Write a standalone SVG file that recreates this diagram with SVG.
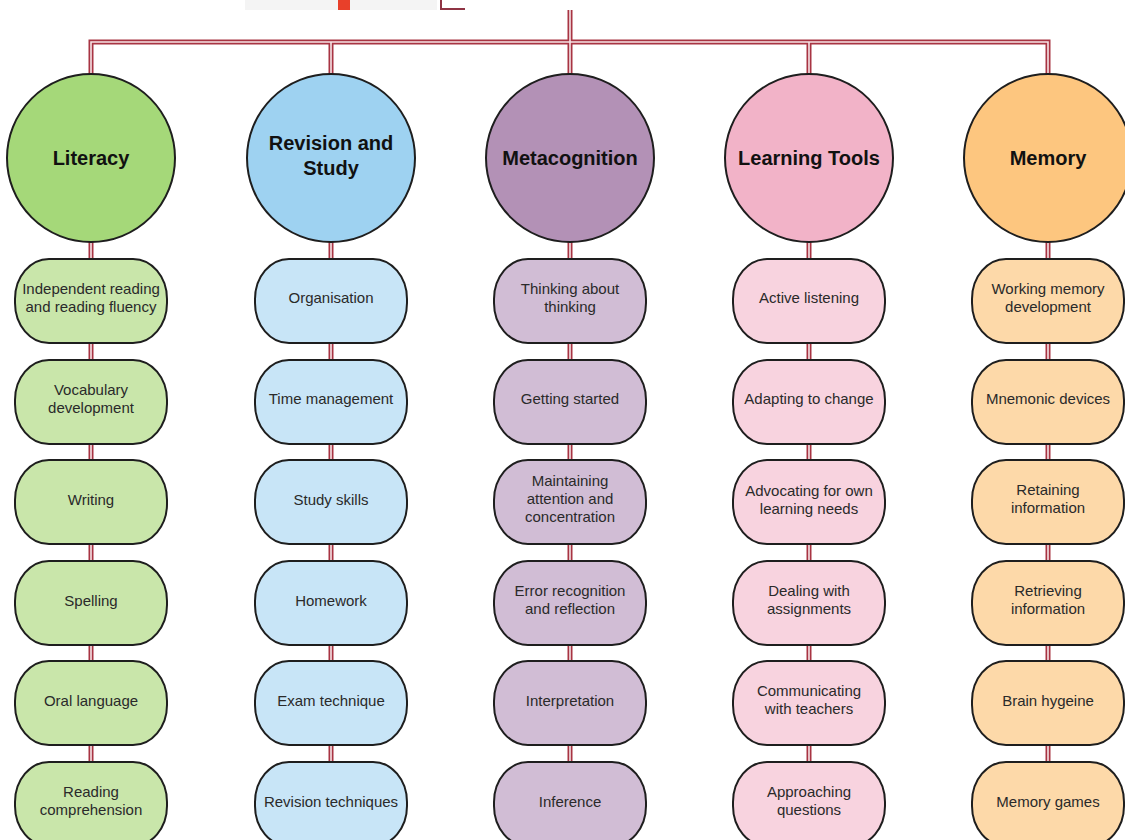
<svg xmlns="http://www.w3.org/2000/svg" xmlns:xlink="http://www.w3.org/1999/xlink" width="1125" height="840" viewBox="0 0 1125 840">
<style>
.pipe{fill:none;stroke:#a83443;stroke-width:5}
.pipein{fill:none;stroke:#f6e4e6;stroke-width:1.6}
.circ{stroke:#1e1e1e;stroke-width:2}
.box{stroke:#1e1e1e;stroke-width:2}
.ttl{font-family:"Liberation Sans",Arial,sans-serif;font-weight:bold;font-size:20px;fill:#111;text-anchor:middle}
.lbl{font-family:"Liberation Sans",Arial,sans-serif;font-size:15px;fill:#2a2a2a;text-anchor:middle}
.g1{fill:#a5d879}.g2{fill:#c9e6aa}
.b1{fill:#9ed2f1}.b2{fill:#c8e5f7}
.p1{fill:#b391b6}.p2{fill:#d1bdd5}
.k1{fill:#f2b3c8}.k2{fill:#f8d3df}
.o1{fill:#fdc67f}.o2{fill:#fdd9a9}
</style>
<defs>
<path id="wires" d="M570,10 V762 M91,75 V42 H1048 V75 M331,42 V75 M91,242 V762 M331,242 V762 M809,42 V762 M1048,242 V762"/>
<rect id="bx" x="-76" y="0" width="152" height="84" rx="34" ry="40"/>
</defs>
<g id="top-node">
<rect x="245" y="0" width="192" height="10" fill="#f4f4f4"/>
<rect x="338" y="0" width="12" height="10" fill="#e8402a"/>
<path d="M441,0 V9 H465" fill="none" stroke="#8f3444" stroke-width="2"/>
</g>
<g id="connectors">
<use xlink:href="#wires" class="pipe"/>
<use xlink:href="#wires" class="pipein"/>
</g>
<g id="col-literacy">
<g id="literacy"><circle class="circ g1" cx="91" cy="158" r="84"/><text class="ttl" x="91" y="165">Literacy</text></g>
<g id="lit1" transform="translate(91,259)"><use xlink:href="#bx" class="box g2"/><text class="lbl" y="35">Independent reading</text><text class="lbl" y="53">and reading fluency</text></g>
<g id="lit2" transform="translate(91,360)"><use xlink:href="#bx" class="box g2"/><text class="lbl" y="35">Vocabulary</text><text class="lbl" y="53">development</text></g>
<g id="lit3" transform="translate(91,460)"><use xlink:href="#bx" class="box g2"/><text class="lbl" y="45">Writing</text></g>
<g id="lit4" transform="translate(91,561)"><use xlink:href="#bx" class="box g2"/><text class="lbl" y="45">Spelling</text></g>
<g id="lit5" transform="translate(91,661)"><use xlink:href="#bx" class="box g2"/><text class="lbl" y="45">Oral language</text></g>
<g id="lit6" transform="translate(91,762)"><use xlink:href="#bx" class="box g2"/><text class="lbl" y="35">Reading</text><text class="lbl" y="53">comprehension</text></g>
</g>
<g id="col-revision">
<g id="revision"><circle class="circ b1" cx="331" cy="158" r="84"/><text class="ttl" x="331" y="150">Revision and</text><text class="ttl" x="331" y="175">Study</text></g>
<g id="rev1" transform="translate(331,259)"><use xlink:href="#bx" class="box b2"/><text class="lbl" y="44">Organisation</text></g>
<g id="rev2" transform="translate(331,360)"><use xlink:href="#bx" class="box b2"/><text class="lbl" y="44">Time management</text></g>
<g id="rev3" transform="translate(331,460)"><use xlink:href="#bx" class="box b2"/><text class="lbl" y="45">Study skills</text></g>
<g id="rev4" transform="translate(331,561)"><use xlink:href="#bx" class="box b2"/><text class="lbl" y="45">Homework</text></g>
<g id="rev5" transform="translate(331,661)"><use xlink:href="#bx" class="box b2"/><text class="lbl" y="45">Exam technique</text></g>
<g id="rev6" transform="translate(331,762)"><use xlink:href="#bx" class="box b2"/><text class="lbl" y="45">Revision techniques</text></g>
</g>
<g id="col-meta">
<g id="metacognition"><circle class="circ p1" cx="570" cy="158" r="84"/><text class="ttl" x="570" y="165">Metacognition</text></g>
<g id="met1" transform="translate(570,259)"><use xlink:href="#bx" class="box p2"/><text class="lbl" y="35">Thinking about</text><text class="lbl" y="53">thinking</text></g>
<g id="met2" transform="translate(570,360)"><use xlink:href="#bx" class="box p2"/><text class="lbl" y="44">Getting started</text></g>
<g id="met3" transform="translate(570,460)"><use xlink:href="#bx" class="box p2"/><text class="lbl" y="26">Maintaining</text><text class="lbl" y="44">attention and</text><text class="lbl" y="62">concentration</text></g>
<g id="met4" transform="translate(570,561)"><use xlink:href="#bx" class="box p2"/><text class="lbl" y="35">Error recognition</text><text class="lbl" y="53">and reflection</text></g>
<g id="met5" transform="translate(570,661)"><use xlink:href="#bx" class="box p2"/><text class="lbl" y="45">Interpretation</text></g>
<g id="met6" transform="translate(570,762)"><use xlink:href="#bx" class="box p2"/><text class="lbl" y="45">Inference</text></g>
</g>
<g id="col-tools">
<g id="learning-tools"><circle class="circ k1" cx="809" cy="158" r="84"/><text class="ttl" x="809" y="165">Learning Tools</text></g>
<g id="lt1" transform="translate(809,259)"><use xlink:href="#bx" class="box k2"/><text class="lbl" y="44">Active listening</text></g>
<g id="lt2" transform="translate(809,360)"><use xlink:href="#bx" class="box k2"/><text class="lbl" y="44">Adapting to change</text></g>
<g id="lt3" transform="translate(809,460)"><use xlink:href="#bx" class="box k2"/><text class="lbl" y="36">Advocating for own</text><text class="lbl" y="54">learning needs</text></g>
<g id="lt4" transform="translate(809,561)"><use xlink:href="#bx" class="box k2"/><text class="lbl" y="35">Dealing with</text><text class="lbl" y="53">assignments</text></g>
<g id="lt5" transform="translate(809,661)"><use xlink:href="#bx" class="box k2"/><text class="lbl" y="35">Communicating</text><text class="lbl" y="53">with teachers</text></g>
<g id="lt6" transform="translate(809,762)"><use xlink:href="#bx" class="box k2"/><text class="lbl" y="35">Approaching</text><text class="lbl" y="53">questions</text></g>
</g>
<g id="col-memory">
<g id="memory"><circle class="circ o1" cx="1048" cy="158" r="84"/><text class="ttl" x="1048" y="165">Memory</text></g>
<g id="mem1" transform="translate(1048,259)"><use xlink:href="#bx" class="box o2"/><text class="lbl" y="35">Working memory</text><text class="lbl" y="53">development</text></g>
<g id="mem2" transform="translate(1048,360)"><use xlink:href="#bx" class="box o2"/><text class="lbl" y="44">Mnemonic devices</text></g>
<g id="mem3" transform="translate(1048,460)"><use xlink:href="#bx" class="box o2"/><text class="lbl" y="35">Retaining</text><text class="lbl" y="53">information</text></g>
<g id="mem4" transform="translate(1048,561)"><use xlink:href="#bx" class="box o2"/><text class="lbl" y="35">Retrieving</text><text class="lbl" y="53">information</text></g>
<g id="mem5" transform="translate(1048,661)"><use xlink:href="#bx" class="box o2"/><text class="lbl" y="45">Brain hygeine</text></g>
<g id="mem6" transform="translate(1048,762)"><use xlink:href="#bx" class="box o2"/><text class="lbl" y="45">Memory games</text></g>
</g>
</svg>
